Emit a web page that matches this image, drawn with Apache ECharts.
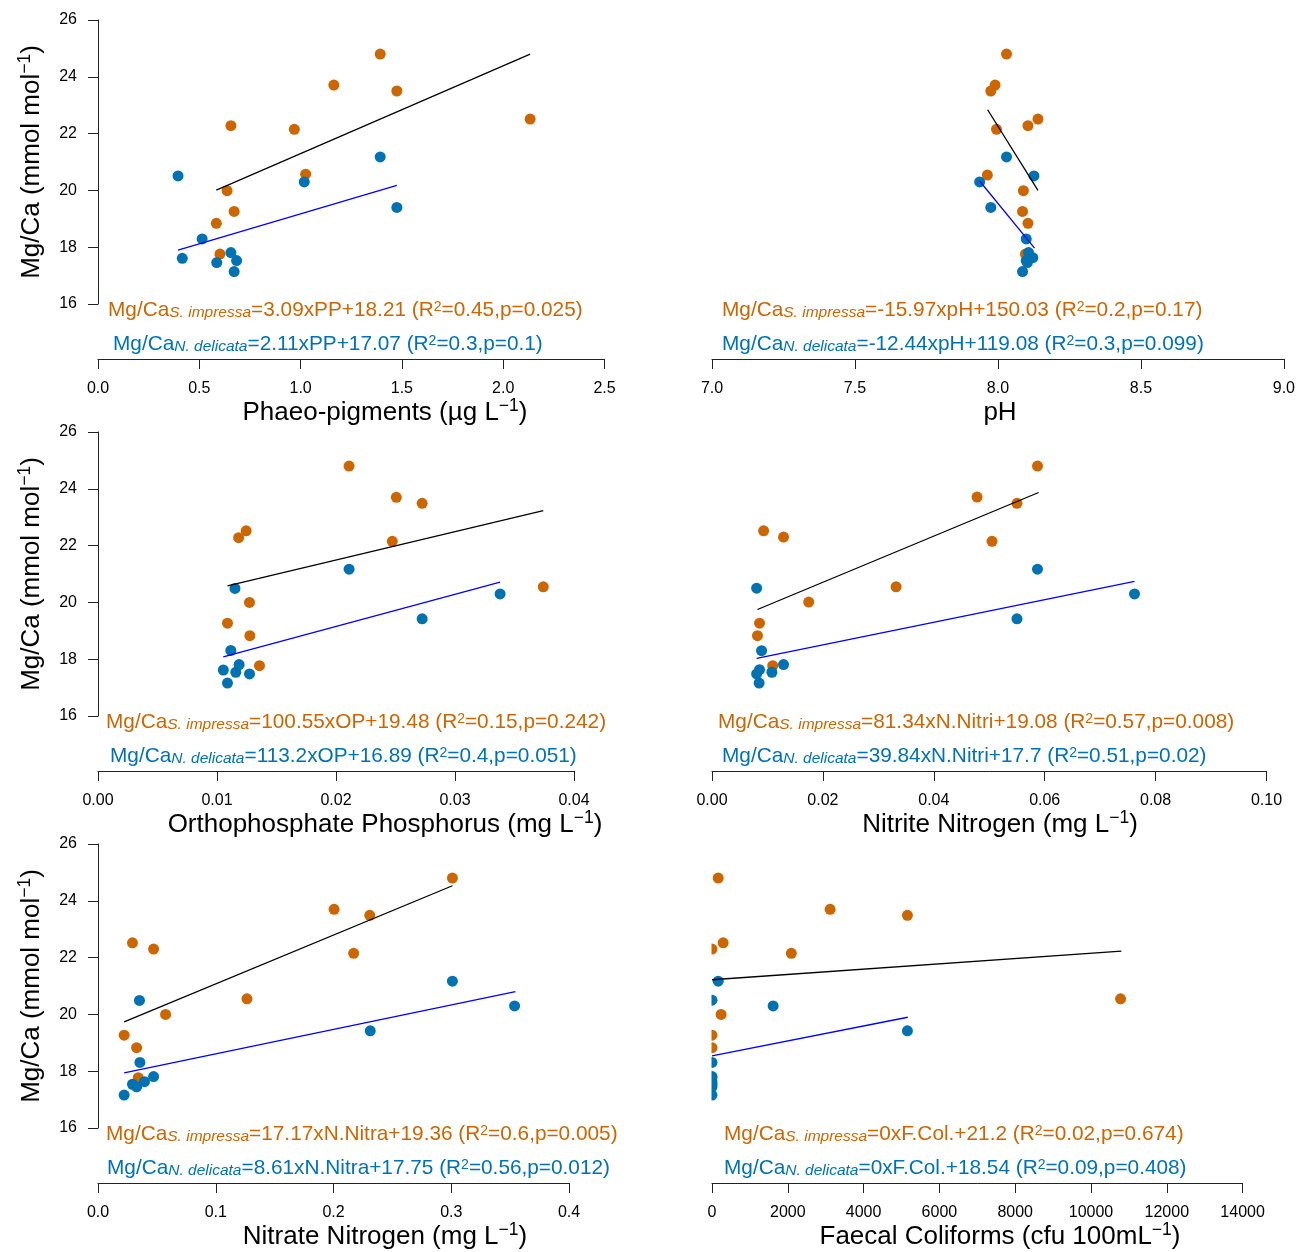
<!DOCTYPE html>
<html><head><meta charset="utf-8">
<script src="https://cdn.jsdelivr.net/npm/echarts@6/dist/echarts.min.js"></script>
<style>html,body{margin:0;padding:0;background:#fff}#c{width:1298px;height:1252px}</style>
</head><body><div id="c"></div>
<script>
// ---------- DATA ----------
const yTicks = ['16','18','20','22','24','26'];

// Phaeo-pigments
const ppTicks = ['0.0','0.5','1.0','1.5','2.0','2.5'];
const ppS = [[1.393,24.80],[1.164,23.71],[1.475,23.50],[0.656,22.28],[0.969,22.15],[2.133,22.51],[1.025,20.57],[0.637,19.99],[0.672,19.26],[0.584,18.84],[0.602,17.76]];
const ppN = [[0.395,20.51],[1.393,21.18],[1.018,20.30],[1.475,19.40],[0.514,18.29],[0.416,17.61],[0.586,17.46],[0.656,17.81],[0.684,17.53],[0.672,17.14]];
const ppFitS = [[0.584,20.01],[2.133,24.80]];
const ppFitN = [[0.395,17.90],[1.475,20.18]];

// pH
const phTicks = ['7.0','7.5','8.0','8.5','9.0'];
const phS = [[8.030,24.80],[7.990,23.71],[7.975,23.50],[8.140,22.51],[8.105,22.28],[7.995,22.15],[7.963,20.54],[8.089,19.99],[8.086,19.26],[8.105,18.84],[8.096,17.76]];
const phN = [[8.030,21.18],[8.126,20.51],[7.936,20.30],[7.975,19.40],[8.099,18.29],[8.107,17.81],[8.122,17.63],[8.099,17.53],[8.103,17.46],[8.086,17.14]];
const phFitS = [[7.964,22.84],[8.140,20.00]];
const phFitN = [[7.936,20.33],[8.128,17.97]];

// Orthophosphate phosphorus
const opTicks = ['0.00','0.01','0.02','0.03','0.04'];
const opS = [[0.0211,24.80],[0.02507,23.70],[0.02724,23.49],[0.01245,22.52],[0.01182,22.28],[0.02473,22.15],[0.03742,20.55],[0.01273,20.00],[0.01088,19.27],[0.01276,18.83],[0.01357,17.77]];
const opN = [[0.0211,21.17],[0.01151,20.49],[0.03379,20.30],[0.02724,19.42],[0.01116,18.31],[0.01186,17.81],[0.01053,17.62],[0.01158,17.54],[0.01273,17.48],[0.01088,17.16]];
const opFitS = [[0.01088,20.58],[0.03742,23.23]];
const opFitN = [[0.01053,18.08],[0.03379,20.71]];

// Nitrite nitrogen
const niTicks = ['0.00','0.02','0.04','0.06','0.08','0.10'];
const niS = [[0.0587,24.80],[0.0478,23.71],[0.0550,23.49],[0.00931,22.52],[0.0129,22.30],[0.0505,22.15],[0.0332,20.55],[0.01744,20.01],[0.00857,19.27],[0.0082,18.83],[0.01095,17.77]];
const niN = [[0.0587,21.17],[0.00805,20.50],[0.0762,20.30],[0.0550,19.42],[0.00894,18.30],[0.0129,17.81],[0.00857,17.63],[0.0108,17.54],[0.00805,17.48],[0.0085,17.16]];
const niFitS = [[0.0082,19.75],[0.0589,23.87]];
const niFitN = [[0.00805,18.03],[0.0762,20.74]];

// Nitrate nitrogen
const naTicks = ['0.0','0.1','0.2','0.3','0.4'];
const naS = [[0.301,24.80],[0.2005,23.70],[0.2308,23.49],[0.0293,22.52],[0.0472,22.30],[0.2171,22.15],[0.1265,20.55],[0.0574,20.00],[0.0222,19.27],[0.0328,18.83],[0.0342,17.77]];
const naN = [[0.301,21.17],[0.0352,20.49],[0.3538,20.30],[0.2312,19.42],[0.0356,18.31],[0.0472,17.81],[0.0395,17.63],[0.0293,17.54],[0.0328,17.45],[0.0222,17.16]];
const naFitS = [[0.0222,19.74],[0.301,24.53]];
const naFitN = [[0.0222,17.94],[0.3545,20.80]];

// Faecal coliforms
const fcTicks = ['0','2000','4000','6000','8000','10000','12000','14000'];
const fcS = [[164,24.80],[3117,23.70],[5156,23.49],[294,22.52],[0,22.30],[2093,22.15],[10780,20.55],[240,20.00],[0,19.27],[0,18.83],[0,17.77]];
const fcN = [[164,21.17],[0,20.50],[1613,20.30],[5156,19.42],[0,18.31],[0,17.81],[0,17.63],[0,17.54],[0,17.45],[0,17.16]];
const fcFitS = [[0,21.22],[10800,22.23]];
const fcFitN = [[0,18.54],[5165,19.90]];

// Equations and axis titles (text)
const eqS = ['=3.09xPP+18.21 (R|2|=0.45,p=0.025)','=-15.97xpH+150.03 (R|2|=0.2,p=0.17)','=100.55xOP+19.48 (R|2|=0.15,p=0.242)','=81.34xN.Nitri+19.08 (R|2|=0.57,p=0.008)','=17.17xN.Nitra+19.36 (R|2|=0.6,p=0.005)','=0xF.Col.+21.2 (R|2|=0.02,p=0.674)'];
const eqN = ['=2.11xPP+17.07 (R|2|=0.3,p=0.1)','=-12.44xpH+119.08 (R|2|=0.3,p=0.099)','=113.2xOP+16.89 (R|2|=0.4,p=0.051)','=39.84xN.Nitri+17.7 (R|2|=0.51,p=0.02)','=8.61xN.Nitra+17.75 (R|2|=0.56,p=0.012)','=0xF.Col.+18.54 (R|2|=0.09,p=0.408)'];
const xTitles = [['Phaeo-pigments (\u00B5g L','\u22121',')'],['pH','',''],['Orthophosphate Phosphorus (mg L','\u22121',')'],['Nitrite Nitrogen (mg L','\u22121',')'],['Nitrate Nitrogen (mg L','\u22121',')'],['Faecal Coliforms (cfu 100mL','\u22121',')']];
const yTitle = ['Mg/Ca (mmol mol','\u22121',')'];

// ---------- LAYOUT ----------
const ORANGE = '#CC6600', BLUE = '#0072B2', AXIS = '#222';
const FONT = '"Liberation Sans", Arial, sans-serif';
const panels = [
  {ticks:ppTicks, S:ppS, N:ppN, fS:ppFitS, fN:ppFitN, min:0, max:2.5, iv:0.5, col:0, row:0, w:506.5, eo:[108,113]},
  {ticks:phTicks, S:phS, N:phN, fS:phFitS, fN:phFitN, min:7, max:9, iv:0.5, col:1, row:0, w:573, eo:[722,722]},
  {ticks:opTicks, S:opS, N:opN, fS:opFitS, fN:opFitN, min:0, max:0.04, iv:0.01, col:0, row:1, w:476, eo:[106,110]},
  {ticks:niTicks, S:niS, N:niN, fS:niFitS, fN:niFitN, min:0, max:0.1, iv:0.02, col:1, row:1, w:554.5, eo:[718,722]},
  {ticks:naTicks, S:naS, N:naN, fS:naFitS, fN:naFitN, min:0, max:0.4, iv:0.1, col:0, row:2, w:471, eo:[106,107]},
  {ticks:fcTicks, S:fcS, N:fcN, fS:fcFitS, fN:fcFitN, min:0, max:14000, iv:2000, col:1, row:2, w:530.6, eo:[724,724]}
];

function eqRich(color) {
  return {
    m:{fontSize:20.8, color:color, fontWeight:'normal', lineHeight:21, verticalAlign:'top', fontFamily:FONT},
    s:{fontSize:15.5, color:color, fontWeight:'normal', fontStyle:'italic', lineHeight:15, verticalAlign:'bottom', padding:[11,0,0,0], fontFamily:FONT},
    p:{fontSize:14, color:color, fontWeight:'normal', lineHeight:13, verticalAlign:'top', padding:[0,0,0,0], fontFamily:FONT}
  };
}
function eqText(species, body) {
  const parts = body.split('|');
  return '{m|Mg/Ca}{s|' + species + '}{m|' + parts[0] + '}{p|' + parts[1] + '}{m|' + parts[2] + '}';
}
function titleText(t) {
  return '{t|' + t[0] + '}' + (t[1] ? '{u|' + t[1] + '}{t|' + t[2] + '}' : '');
}
const titleRich = {
  t:{fontSize:26, color:'#000', fontWeight:'normal', lineHeight:29, verticalAlign:'bottom', fontFamily:FONT},
  u:{fontSize:17.5, color:'#000', fontWeight:'normal', lineHeight:16, verticalAlign:'top', fontFamily:FONT}
};

const grid = [], xAxis = [], yAxis = [], series = [], title = [];
panels.forEach((p, i) => {
  const left = p.col ? 712 : 98;
  const top = 20 + p.row * 412;
  grid.push({left:left, top:top, width:p.w, height:284});
  xAxis.push({
    gridIndex:i, type:'value', min:p.min, max:p.max, interval:p.iv, position:'bottom', offset:55,
    axisLine:{show:true, onZero:false, lineStyle:{color:AXIS, width:1}},
    axisTick:{show:true, length:10, lineStyle:{color:AXIS, width:1}},
    axisLabel:{fontSize:16, color:'#000', margin:22, fontFamily:FONT, showMinLabel:true, showMaxLabel:true,
      formatter:(v) => p.ticks[Math.round((v - p.min) / p.iv)]},
    splitLine:{show:false}
  });
  const y = {
    gridIndex:i, type:'value', min:16, max:26, interval:2, show:p.col === 0,
    axisLine:{show:true, lineStyle:{color:AXIS, width:1}},
    axisTick:{show:true, length:10, lineStyle:{color:AXIS, width:1}},
    axisLabel:{fontSize:16, color:'#000', margin:21, fontFamily:FONT, formatter:(v) => yTicks[Math.round((v - 16) / 2)]},
    splitLine:{show:false}
  };
  if (p.col === 0) {
    y.name = titleText(yTitle);
    y.nameLocation = 'middle';
    y.nameRotate = 90;
    y.nameGap = 53;
    y.nameTextStyle = {rich:titleRich, fontWeight:'normal'};
  }
  yAxis.push(y);
  series.push({type:'scatter', xAxisIndex:i, yAxisIndex:i, data:p.S, symbol:'circle', symbolSize:11, clip:false, itemStyle:{color:ORANGE, opacity:1}, z:2, silent:true});
  series.push({type:'scatter', xAxisIndex:i, yAxisIndex:i, data:p.N, symbol:'circle', symbolSize:11, clip:false, itemStyle:{color:BLUE, opacity:1}, z:3, silent:true});
  series.push({type:'line', xAxisIndex:i, yAxisIndex:i, data:p.fS, symbol:'none', clip:false, lineStyle:{color:'#000', width:1.3}, z:4, silent:true});
  series.push({type:'line', xAxisIndex:i, yAxisIndex:i, data:p.fN, symbol:'none', clip:false, lineStyle:{color:'#0000FF', width:1.3}, z:4, silent:true});
  title.push({text:eqText('S. impressa', eqS[i]), left:p.eo[0], top:top + 280, padding:0,
    textStyle:{color:ORANGE, fontWeight:'normal', rich:eqRich(ORANGE)}});
  title.push({text:eqText('N. delicata', eqN[i]), left:p.eo[1], top:top + 314, padding:0,
    textStyle:{color:BLUE, fontWeight:'normal', rich:eqRich(BLUE)}});
  title.push({text:titleText(xTitles[i]), left:p.col ? 1000 : 385, top:top + 377, padding:0, textAlign:'center',
    textStyle:{fontWeight:'normal', rich:titleRich}});
});

const chart = echarts.init(document.getElementById('c'), null, {renderer:'canvas'});
chart.setOption({
  backgroundColor:'#fff',
  animation:false,
  textStyle:{fontFamily:FONT},
  title:title, grid:grid, xAxis:xAxis, yAxis:yAxis, series:series,
  graphic:[{type:'rect', left:680, top:836, shape:{width:31.5, height:300}, style:{fill:'#fff'}, z:100, silent:true}]
});
</script></body></html>
